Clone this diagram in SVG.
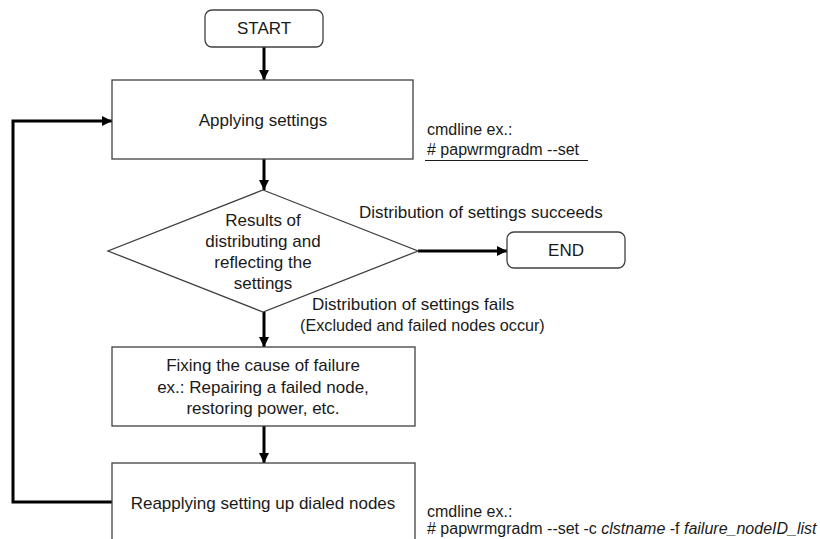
<svg xmlns="http://www.w3.org/2000/svg" width="820" height="539" viewBox="0 0 820 539">
  <style>
    .box { fill: #ffffff; stroke: #404040; stroke-width: 1.3; }
    .t { font-family: "Liberation Sans", Arial, sans-serif; font-size: 17px; fill: #1a1a1a; text-anchor: middle; }
    .lbl { font-family: "Liberation Sans", Arial, sans-serif; font-size: 17px; fill: #1a1a1a; }
    .lbl.sm { font-size: 16.2px; }
    .cmd { font-family: "Liberation Sans", Arial, sans-serif; font-size: 16px; fill: #1a1a1a; }
    .edge { fill: none; stroke: #000000; stroke-width: 3; }
  </style>
  <defs>
    <marker id="arrow" viewBox="0 0 10 10" refX="10" refY="5" markerWidth="3.4" markerHeight="3.4" orient="auto" markerUnits="strokeWidth">
      <path d="M0,0 L10,5 L0,10 Z" fill="#000000"/>
    </marker>
  </defs>

  <rect width="820" height="539" fill="#ffffff"/>

  <!-- connectors -->
  <g id="connectors">
    <path class="edge" d="M264,47 V80" marker-end="url(#arrow)"/>
    <path class="edge" d="M264,159 V190" marker-end="url(#arrow)"/>
    <path class="edge" d="M418,251 H507" marker-end="url(#arrow)"/>
    <path class="edge" d="M264,312 V347" marker-end="url(#arrow)"/>
    <path class="edge" d="M264,426 V463" marker-end="url(#arrow)"/>
    <path class="edge" d="M112,502 H13 V121 H112" marker-end="url(#arrow)"/>
    <text class="lbl" x="359" y="218">Distribution of settings succeeds</text>
    <text class="lbl" x="312" y="310">Distribution of settings fails</text>
    <text class="lbl sm" x="300" y="331">(Excluded and failed nodes occur)</text>
  </g>

  <g id="start">
    <rect class="box" x="205" y="10" width="118" height="37" rx="7"/>
    <text class="t" x="264" y="34">START</text>
  </g>

  <g id="apply">
    <rect class="box" x="112" y="80" width="301" height="79"/>
    <text class="t" x="263" y="126">Applying settings</text>
  </g>

  <g id="apply-cmd">
    <text class="cmd" x="427" y="135">cmdline ex.:</text>
    <text class="cmd" x="427" y="155"># papwrmgradm --set</text>
    <line x1="425" y1="160.5" x2="588" y2="160.5" stroke="#1a1a1a" stroke-width="1"/>
  </g>

  <g id="decision">
    <polygon class="box" points="263,190 418,251 263,312 108,251"/>
    <text class="t" x="263" y="226">Results of</text>
    <text class="t" x="263" y="247">distributing and</text>
    <text class="t" x="263" y="268">reflecting the</text>
    <text class="t" x="263" y="289">settings</text>
  </g>

  <g id="end">
    <rect class="box" x="507" y="232" width="118" height="36" rx="7"/>
    <text class="t" x="566" y="256">END</text>
  </g>

  <g id="fix">
    <rect class="box" x="112" y="347" width="303" height="79"/>
    <text class="t" x="263" y="371">Fixing the cause of failure</text>
    <text class="t" x="263" y="393">ex.: Repairing a failed node,</text>
    <text class="t" x="263" y="414">restoring power, etc.</text>
  </g>

  <g id="reapply">
    <rect class="box" x="112" y="463" width="303" height="90"/>
    <text class="t" x="263" y="509">Reapplying setting up dialed nodes</text>
  </g>

  <g id="reapply-cmd">
    <text class="cmd" x="427" y="517">cmdline ex.:</text>
    <text class="cmd" x="427" y="534"># papwrmgradm --set -c <tspan font-style="italic">clstname</tspan> -f <tspan font-style="italic">failure_nodeID_list</tspan></text>
  </g>
</svg>
